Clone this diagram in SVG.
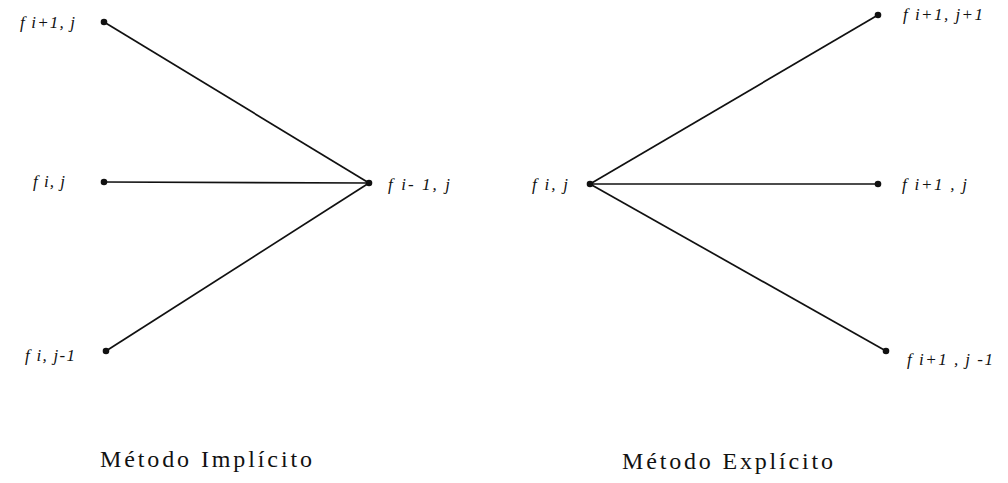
<svg xmlns="http://www.w3.org/2000/svg" width="1008" height="483" viewBox="0 0 1008 483">
<style>
.lbl{font-family:"Liberation Serif",serif;font-style:italic;font-size:17px;fill:#111}
.ttl{font-family:"Liberation Serif",serif;font-size:24px;fill:#111}
.edge{stroke:#111;stroke-width:1.7;fill:none}
.dot{fill:#111}
</style>
<rect width="1008" height="483" fill="#fff"/>
<g id="connectors">
<line class="edge" x1="104" y1="22" x2="369" y2="183"/>
<line class="edge" x1="104" y1="182" x2="369" y2="183"/>
<line class="edge" x1="106" y1="351" x2="369" y2="183"/>
<line class="edge" x1="590" y1="184" x2="878" y2="15"/>
<line class="edge" x1="590" y1="184" x2="878" y2="184"/>
<line class="edge" x1="590" y1="184" x2="886" y2="351"/>
</g>
<g id="n-imp-top"><circle class="dot" cx="104" cy="22" r="3.3"/><text class="lbl" x="20" y="28" textLength="55" lengthAdjust="spacing">f i+1, j</text></g>
<g id="n-imp-mid"><circle class="dot" cx="104" cy="182" r="3.3"/><text class="lbl" x="33" y="187" textLength="32" lengthAdjust="spacing">f i, j</text></g>
<g id="n-imp-bot"><circle class="dot" cx="106" cy="351" r="3.3"/><text class="lbl" x="25" y="361" textLength="50" lengthAdjust="spacing">f i, j-1</text></g>
<g id="n-imp-center"><circle class="dot" cx="369" cy="183" r="3.3"/><text class="lbl" x="388" y="190" textLength="62" lengthAdjust="spacing">f i- 1, j</text></g>
<g id="n-exp-center"><circle class="dot" cx="590" cy="184" r="3.3"/><text class="lbl" x="532" y="190" textLength="36" lengthAdjust="spacing">f i, j</text></g>
<g id="n-exp-top"><circle class="dot" cx="878" cy="15" r="3.3"/><text class="lbl" x="903" y="20" textLength="80" lengthAdjust="spacing">f i+1, j+1</text></g>
<g id="n-exp-mid"><circle class="dot" cx="878" cy="184" r="3.3"/><text class="lbl" x="902" y="190" textLength="65" lengthAdjust="spacing">f i+1 , j</text></g>
<g id="n-exp-bot"><circle class="dot" cx="886" cy="351" r="3.3"/><text class="lbl" x="907" y="365" textLength="86" lengthAdjust="spacing">f i+1 , j -1</text></g>
<g id="titles">
<text class="ttl" x="100" y="467" textLength="212" lengthAdjust="spacing">Método Implícito</text>
<text class="ttl" x="622" y="469" textLength="211" lengthAdjust="spacing">Método Explícito</text>
</g>
</svg>
